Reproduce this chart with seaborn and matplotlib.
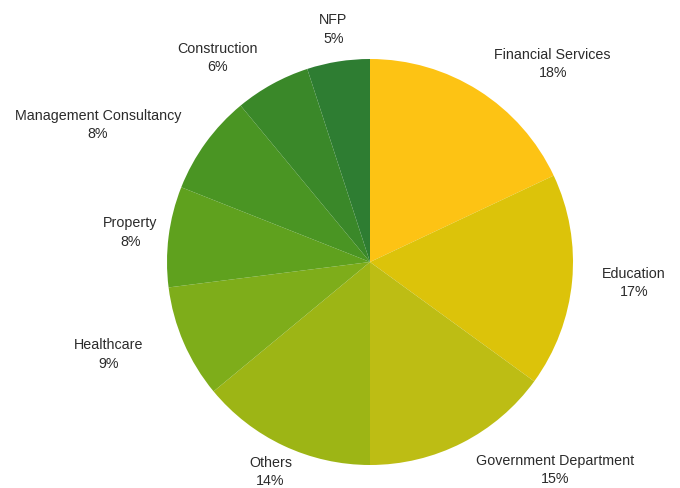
import numpy as np
import pandas as pd
import matplotlib
matplotlib.use('Agg')
import matplotlib.pyplot as plt
import seaborn as sns

# sector share of clients (%)
sectors = ['Financial Services', 'Education', 'Government Department', 'Others',
           'Healthcare', 'Property', 'Management Consultancy', 'Construction', 'NFP']
shares = [18, 17, 15, 14, 9, 8, 8, 6, 5]

colours = ['#FDC314', '#DCC30A', '#BDBD14', '#9DB515', '#7EAD1A',
           '#5FA11E', '#4A9523', '#3A8829', '#2E7D32']

# where each label sits (pie radius = 1)
label_xy = [(0.90, 0.98), (1.30, -0.10), (0.91, -1.02), (-0.49, -1.03),
            (-1.29, -0.45), (-1.18, 0.15), (-1.34, 0.68), (-0.75, 1.01), (-0.18, 1.15)]

sns.set_theme(style='white')
plt.rcParams['font.family'] = ['Liberation Sans', 'DejaVu Sans']

df = pd.DataFrame({'sector': sectors, 'share': shares})

fig = plt.figure(figsize=(6.8, 4.89), dpi=100)
ax = fig.add_axes([0, 0, 1, 1])

wedges, texts = ax.pie(df['share'], colors=colours, startangle=90, counterclock=False,
                       wedgeprops=dict(linewidth=0), radius=1)

for (name, pct), (x, y) in zip(zip(df['sector'], df['share']), label_xy):
    ax.text(x, y, f'{name}\n{pct}%', ha='center', va='center', fontsize=10.3,
            color='#2b2b2b', linespacing=1.4)

ax.set_xlim(-370 / 203, 310 / 203)
ax.set_ylim(-226 / 203, 263 / 203)
ax.set_aspect('auto')
ax.axis('off')

fig.savefig('out.png', dpi=100, facecolor='white')
